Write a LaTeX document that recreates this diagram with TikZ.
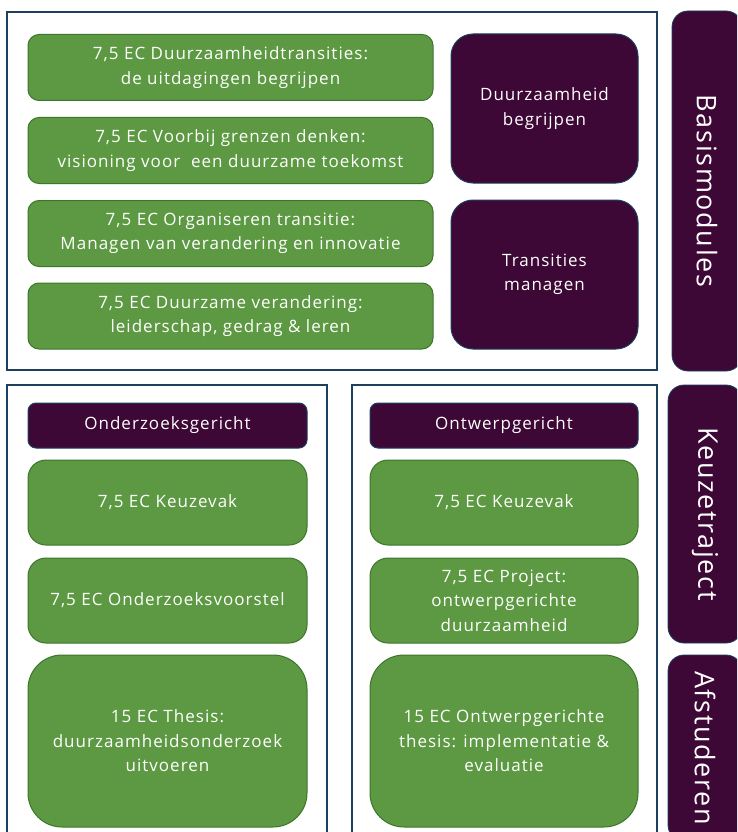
\documentclass[tikz,border=0pt]{standalone}
\usepackage{fontspec}
\setmainfont{Open Sans}[LetterSpace=6]
\definecolor{groen}{RGB}{92,153,66}
\definecolor{groenrand}{RGB}{60,118,44}
\definecolor{paars}{RGB}{61,8,53}
\definecolor{kader}{RGB}{28,64,94}
\tikzset{
  groenblok/.style={rectangle, rounded corners=11pt, draw=groenrand, line width=1pt, fill=groen,
    text=white, align=center, inner sep=0pt, font=\fontsize{17}{24.5}\selectfont},
  paarsblok/.style={rectangle, rounded corners=22pt, draw=kader, line width=1pt, fill=paars,
    text=white, align=center, inner sep=0pt, font=\fontsize{17}{24.5}\selectfont},
  tab/.style={rectangle, rounded corners=16pt, fill=paars, draw=kader, line width=0.8pt, rotate=-90,
    text=white, inner sep=0pt, font=\fontsize{27}{30}\selectfont},
  kaderlijn/.style={draw=kader, line width=2.5pt}
}
\begin{document}
\begin{tikzpicture}[x=1pt,y=-1pt]
\clip (0,0) rectangle (737,832);
\fill[white] (0,0) rectangle (737,832);
% kaders
\draw[kaderlijn] (7,12) rectangle (657,370);
\draw[kaderlijn] (7,385) rectangle (327,850);
\draw[kaderlijn] (352,385) rectangle (657,850);
% basismodules
\foreach \y/\t [count=\i] in {67.5/{7,5 EC Duurzaamheidtransities:\\de uitdagingen begrijpen},
  150.5/{7,5 EC Voorbij grenzen denken:\\visioning voor \ een duurzame toekomst},
  233.5/{7,5 EC Organiseren transitie:\\Managen van verandering en innovatie},
  316/{7,5 EC Duurzame verandering:\\leiderschap, gedrag \& leren}}
  \node[groenblok, minimum width=405pt, minimum height=66pt] (basis\i) at (230.5,\y) {\t};
\node[paarsblok, minimum width=187pt, minimum height=149pt] (begrijpen) at (544.5,108.5) {Duurzaamheid\\begrijpen};
\node[paarsblok, minimum width=187pt, minimum height=149pt] (managen) at (544.5,274.5) {Transities\\managen};
% zijtabs
\node[tab, minimum width=360pt, minimum height=70pt] (tabbasis) at (707,191) {Basismodules};
\node[tab, minimum width=258pt, minimum height=74pt] (tabkeuze) at (705,514) {Keuzetraject};
\node[tab, minimum width=186pt, minimum height=74pt] (tabafstud) at (705,748) {Afstuderen};
% keuzetrajecten
\node[paarsblok, rounded corners=8pt, minimum width=279pt, minimum height=45pt] (onderzoek) at (167.5,425.5) {Onderzoeksgericht};
\node[groenblok, rounded corners=18pt, minimum width=279pt, minimum height=85pt] (keuzeA) at (167.5,502.5) {7,5 EC Keuzevak};
\node[groenblok, rounded corners=18pt, minimum width=279pt, minimum height=85pt] (voorstel) at (167.5,600.5) {7,5 EC Onderzoeksvoorstel};
\node[groenblok, rounded corners=34pt, minimum width=279pt, minimum height=172pt] (thesisA) at (167.5,741) {15 EC Thesis:\\duurzaamheidsonderzoek\\uitvoeren};
\node[paarsblok, rounded corners=8pt, minimum width=268pt, minimum height=45pt] (ontwerp) at (504,425.5) {Ontwerpgericht};
\node[groenblok, rounded corners=18pt, minimum width=268pt, minimum height=85pt] (keuzeB) at (504,502.5) {7,5 EC Keuzevak};
\node[groenblok, rounded corners=18pt, minimum width=268pt, minimum height=85pt] (project) at (504,600.5) {7,5 EC Project:\\ontwerpgerichte\\duurzaamheid};
\node[groenblok, rounded corners=34pt, minimum width=268pt, minimum height=172pt] (thesisB) at (504,741) {15 EC Ontwerpgerichte\\thesis: implementatie \&\\evaluatie};
\end{tikzpicture}
\end{document}
